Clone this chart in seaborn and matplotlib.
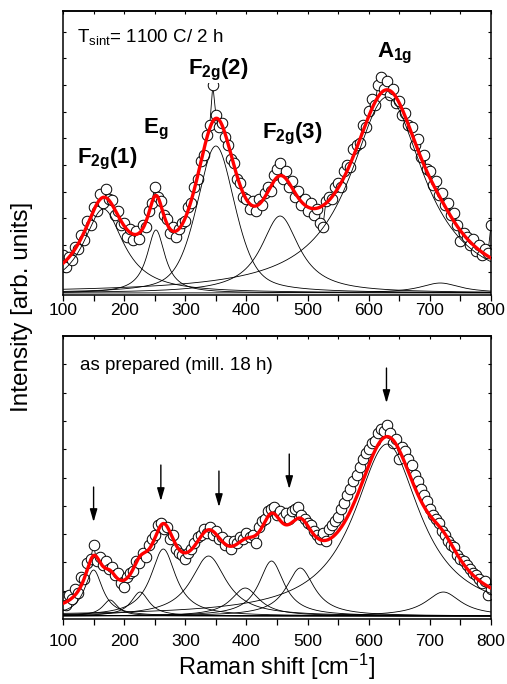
import numpy as np
import pandas as pd
import matplotlib
matplotlib.use("Agg")
import matplotlib.pyplot as plt
from matplotlib.ticker import MultipleLocator
import seaborn as sns

# ---------------------------------------------------------------- data
# Raman shift grid of the recorded spectra (cm^-1)
shift = list(range(100, 805, 5))

# Sintered sample (1100 C / 2 h): measured intensity, arb. units
sintered_counts = [
    40, 28, 38, 35, 48, 46, 60, 55, 74, 70,
    88, 84, 101, 92, 106, 96, 95, 80, 84, 70,
    72, 58, 66, 55, 64, 56, 70, 68, 84, 92,
    108, 98, 94, 80, 76, 62, 68, 58, 66, 72,
    74, 88, 92, 108, 116, 134, 140, 160, 170, 210,
    180, 168, 172, 158, 150, 136, 132, 116, 112, 98,
    96, 86, 94, 84, 96, 90, 102, 108, 104, 120,
    126, 132, 116, 124, 108, 114, 98, 104, 90, 96,
    84, 92, 80, 86, 72, 68, 94, 98, 96, 108,
    112, 108, 124, 130, 128, 146, 150, 152, 170, 168,
    184, 196, 190, 210, 218, 206, 214, 200, 206, 192,
    194, 180, 182, 170, 168, 150, 156, 138, 140, 126,
    124, 110, 114, 100, 102, 90, 92, 80, 82, 70,
    54, 62, 58, 50, 56, 44, 50, 40, 46, 42,
    70,
]

# As-prepared sample (milled 18 h): measured intensity, arb. units
milled_counts = [
    22, 14, 24, 20, 30, 26, 42, 40, 56, 60,
    74, 58, 62, 54, 58, 50, 52, 44, 46, 36,
    32, 42, 46, 48, 58, 56, 66, 62, 74, 80,
    84, 94, 96, 90, 92, 80, 84, 70, 66, 64,
    60, 66, 70, 76, 82, 84, 90, 86, 92, 84,
    88, 80, 82, 74, 78, 70, 78, 76, 82, 80,
    86, 82, 84, 76, 92, 98, 100, 108, 110, 112,
    104, 108, 102, 106, 100, 108, 110, 112, 104, 100,
    96, 94, 88, 84, 80, 86, 78, 90, 94, 98,
    102, 110, 116, 124, 130, 138, 144, 152, 160, 166,
    170, 176, 178, 186, 190, 188, 194, 186, 176, 180,
    160, 172, 168, 160, 154, 144, 138, 130, 124, 118,
    110, 104, 100, 96, 88, 84, 78, 74, 72, 64,
    60, 58, 54, 50, 46, 44, 40, 36, 38, 24,
    30,
]

# Fitted bands of the sintered sample
sint_centers = [166, 252, 350, 455, 630, 717]
sint_heights = [84, 63, 147, 77, 196, 10]
sint_hwhm = [40, 18, 37, 38, 74, 40]
sint_lorentz_frac = [1.0, 1.0, 0.5, 1.0, 1.0, 1.0]
sint_baseline = 2

# Fitted bands of the milled sample
mill_centers = [150, 177, 226, 264, 338, 398, 441, 488, 630, 722]
mill_heights = [46, 16, 24, 67, 60, 28, 55, 48, 172, 24]
mill_hwhm = [18, 15, 18, 25, 35, 28, 25, 28, 66, 35]
mill_lorentz_frac = [1.0] * 10
mill_baseline = 3

# Mode labels of the sintered spectrum
mode_labels = [r"$\mathbf{F}_{\mathbf{2g}}\mathbf{(1)}$", r"$\mathbf{E}_{\mathbf{g}}$",
               r"$\mathbf{F}_{\mathbf{2g}}\mathbf{(2)}$", r"$\mathbf{F}_{\mathbf{2g}}\mathbf{(3)}$",
               r"$\mathbf{A}_{\mathbf{1g}}$"]
mode_label_x = [123, 231, 304, 425, 614]
mode_label_y = [132, 162, 221, 157, 238]

# Arrows marking the bands of the milled sample
arrow_x = [150, 260, 355, 470, 629]
arrow_tail = [132, 154, 148, 165, 251]
arrow_head = [97, 118, 112, 130, 216]

# ---------------------------------------------------------------- style
sns.set_style("ticks")
plt.rcParams["font.family"] = ["Liberation Sans", "DejaVu Sans"]
plt.rcParams["mathtext.fontset"] = "custom"
plt.rcParams["mathtext.rm"] = "Liberation Sans"
plt.rcParams["mathtext.it"] = "Liberation Sans:italic"
plt.rcParams["mathtext.bf"] = "Liberation Sans:bold"
plt.rcParams["axes.linewidth"] = 1.1
plt.rcParams["axes.edgecolor"] = "black"
plt.rcParams["text.color"] = "black"
plt.rcParams["xtick.color"] = "black"
plt.rcParams["ytick.color"] = "black"
plt.rcParams["xtick.labelcolor"] = "black"
plt.rcParams["axes.labelcolor"] = "black"

fig = plt.figure(figsize=(5.07, 6.84), dpi=100)
ax_top = fig.add_axes([0.1243, 0.5687, 0.8442, 0.4152])
ax_bot = fig.add_axes([0.1243, 0.0950, 0.8442, 0.4137])

grid = np.linspace(100, 800, 1401)


def band(x, c, h, w, eta):
    u = ((x - c) / w) ** 2
    return h * (eta / (1.0 + u) + (1.0 - eta) * np.exp(-np.log(2.0) * u))


def draw_panel(ax, counts, centers, heights, hwhm, eta, base, ymax, ytick0, ytick_step, label_pad):
    spec = pd.DataFrame({"shift": shift, "counts": counts})
    sns.lineplot(data=spec, x="shift", y="counts", ax=ax, color="black", lw=0.6,
                 marker="o", markersize=7.6, markerfacecolor="white",
                 markeredgecolor="black", markeredgewidth=0.7, zorder=2)
    total = np.full_like(grid, float(base))
    for c, h, w, e in zip(centers, heights, hwhm, eta):
        comp = band(grid, c, h, w, e)
        total += comp
        sns.lineplot(x=grid, y=base + comp, ax=ax, color="black", lw=0.6, zorder=3)
    sns.lineplot(x=grid, y=total, ax=ax, color="#ff0000", lw=2.4, zorder=4)

    ax.set_xlim(100, 800)
    ax.set_ylim(0, ymax)
    ax.set_xlabel("")
    ax.set_ylabel("")
    ax.xaxis.set_major_locator(MultipleLocator(100))
    ax.xaxis.set_minor_locator(MultipleLocator(50))
    ax.tick_params(axis="x", which="both", direction="out", length=4.5, width=0.9,
                   top=False, bottom=True, labelsize=12.5, pad=label_pad,
                   colors="black", labelcolor="black")
    ax.set_yticks(np.arange(ytick0, ymax, ytick_step))
    ax.tick_params(axis="y", which="both", direction="in", length=2.5, width=0.8,
                   left=True, right=True, labelleft=False, colors="black")
    top = ax.secondary_xaxis("top")
    top.xaxis.set_major_locator(MultipleLocator(50))
    top.tick_params(direction="in", length=2.5, width=0.8, labeltop=False, colors="black")
    top.spines["top"].set_linewidth(1.1)
    for s in ax.spines.values():
        s.set_linewidth(1.1)
        s.set_color("black")
        s.set_visible(True)


draw_panel(ax_top, sintered_counts, sint_centers, sint_heights, sint_hwhm,
           sint_lorentz_frac, sint_baseline, 284, 23.3, 26.67, 1.5)
draw_panel(ax_bot, milled_counts, mill_centers, mill_heights, mill_hwhm,
           mill_lorentz_frac, mill_baseline, 283, 28.3, 28.3, 6.0)

# ---------------------------------------------------------------- annotations
ax_top.text(123, 253, r"T$_{\mathrm{sint}}$= 1100 C/ 2 h", fontsize=13.5,
            ha="left", va="baseline", zorder=6)
for lab, lx, ly in zip(mode_labels, mode_label_x, mode_label_y):
    ax_top.text(lx, ly, lab, fontsize=16, ha="left", va="baseline", zorder=6,
                bbox=dict(facecolor="white", edgecolor="none", pad=0.5))

ax_bot.text(128, 249, "as prepared (mill. 18 h)", fontsize=13.5,
            ha="left", va="baseline", zorder=6)
for ax_, t, h in zip(arrow_x, arrow_tail, arrow_head):
    ax_bot.annotate("", xy=(ax_, h), xytext=(ax_, t), zorder=6,
                    arrowprops=dict(arrowstyle="-|>,head_length=0.55,head_width=0.16",
                                    mutation_scale=14, color="black", lw=1.0,
                                    shrinkA=0, shrinkB=0))

fig.text(22 / 507, 1 - 307 / 684, "Intensity [arb. units]", rotation=90,
         ha="center", va="center", fontsize=17.5)
fig.text(277 / 507, 1 - 667 / 684, r"Raman shift [cm$^{\mathregular{-1}}$]",
         ha="center", va="center", fontsize=17)

fig.savefig("out.png", dpi=100)
